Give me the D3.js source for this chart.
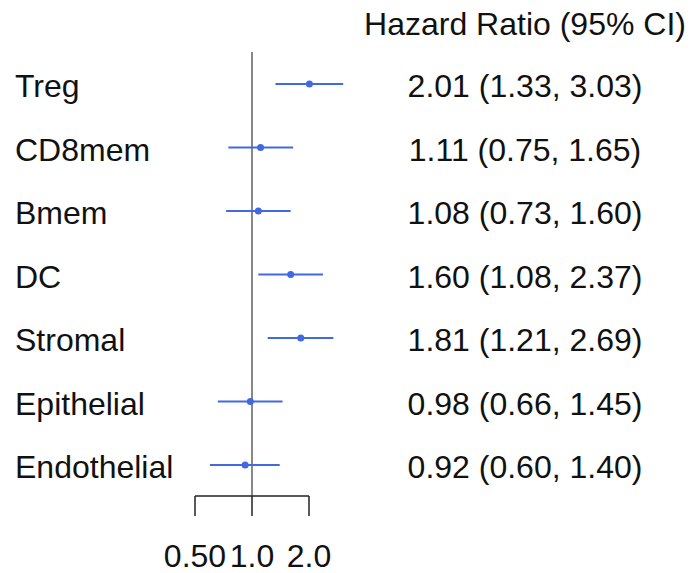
<!DOCTYPE html>
<html>
<head>
<meta charset="utf-8">
<script src="https://cdn.jsdelivr.net/npm/d3@7"></script>
<style>
  body { margin: 0; background: #fff; }
  text { font-family: "Liberation Sans", Arial, sans-serif; fill: #111; }
</style>
</head>
<body>
<div class="chart"></div>
<script>
const cells = ['Treg', 'CD8mem', 'Bmem', 'DC', 'Stromal', 'Epithelial', 'Endothelial']
const hr = [2.01, 1.11, 1.08, 1.60, 1.81, 0.98, 0.92]
const lower = [1.33, 0.75, 0.73, 1.08, 1.21, 0.66, 0.60]
const upper = [3.03, 1.65, 1.60, 2.37, 2.69, 1.45, 1.40]
const tickValues = [0.5, 1.0, 2.0]
const tickLabels = ['0.50', '1.0', '2.0']

const width = 694
const height = 573
const blue = '#4169e1'

const rows = cells.map((c, i) => ({name: c, hr: hr[i], lo: lower[i], hi: upper[i]}))

const svg = d3.select('.chart').append('svg')
    .attr('width', width)
    .attr('height', height)

// log scale, 1.0 sits at x=252, one doubling = 57px
let x = d3.scaleLog()
    .domain([0.5, 2])
    .range([195, 309])

let y = d3.scalePoint()
    .domain(cells)
    .range([84, 465])

// reference line at HR = 1
svg.append('line')
    .attr('x1', x(1)).attr('x2', x(1))
    .attr('y1', 52).attr('y2', 496)
    .attr('stroke', '#888')
    .attr('stroke-width', 2)

// bracket style axis
const axisY = 496
svg.append('line')
    .attr('x1', x(tickValues[0])).attr('x2', x(tickValues[tickValues.length - 1]))
    .attr('y1', axisY).attr('y2', axisY)
    .attr('stroke', '#222')
    .attr('stroke-width', 1.5)

svg.selectAll('.tick')
    .data(tickValues)
    .join('line')
    .attr('class', 'tick')
    .attr('x1', d => x(d)).attr('x2', d => x(d))
    .attr('y1', axisY).attr('y2', axisY + 20)
    .attr('stroke', '#222')
    .attr('stroke-width', 1.5)

svg.selectAll('.tick-label')
    .data(tickValues)
    .join('text')
    .attr('class', 'tick-label')
    .attr('x', d => x(d))
    .attr('y', 567)
    .attr('text-anchor', 'middle')
    .attr('font-size', 32)
    .text((d, i) => tickLabels[i])

// CI whiskers
svg.selectAll('.ci')
    .data(rows)
    .join('line')
    .attr('class', 'ci')
    .attr('x1', d => x(d.lo)).attr('x2', d => x(d.hi))
    .attr('y1', d => y(d.name)).attr('y2', d => y(d.name))
    .attr('stroke', blue)
    .attr('stroke-width', 2)

svg.selectAll('.pt')
    .data(rows)
    .join('circle')
    .attr('class', 'pt')
    .attr('cx', d => x(d.hr))
    .attr('cy', d => y(d.name))
    .attr('r', 3.5)
    .attr('fill', blue)

// row labels
svg.selectAll('.name')
    .data(rows)
    .join('text')
    .attr('class', 'name')
    .attr('x', 15)
    .attr('y', d => y(d.name) + 13)
    .attr('font-size', 32)
    .text(d => d.name)

// HR (CI) column
svg.append('text')
    .attr('x', 525)
    .attr('y', 35)
    .attr('text-anchor', 'middle')
    .attr('font-size', 32)
    .text('Hazard Ratio (95% CI)')

svg.selectAll('.val')
    .data(rows)
    .join('text')
    .attr('class', 'val')
    .attr('x', 525)
    .attr('y', d => y(d.name) + 13)
    .attr('text-anchor', 'middle')
    .attr('font-size', 32)
    .text(d => `${d.hr.toFixed(2)} (${d.lo.toFixed(2)}, ${d.hi.toFixed(2)})`)
</script>
</body>
</html>
